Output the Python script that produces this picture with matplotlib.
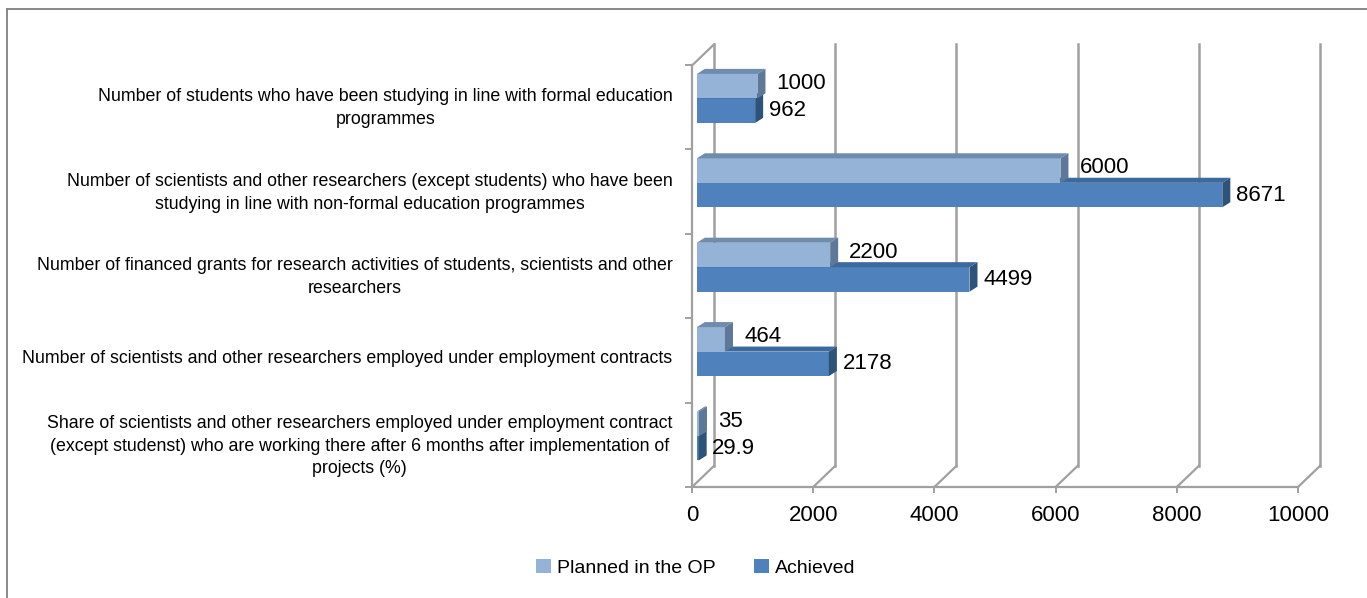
import matplotlib
matplotlib.use('Agg')
import matplotlib.pyplot as plt
from matplotlib.patches import Polygon, Patch
from matplotlib.lines import Line2D
import numpy as np

plt.rcParams['font.family'] = ['Liberation Sans', 'DejaVu Sans']

categories = [
    "Share of scientists and other researchers employed under employment contract\n"
    "(except studenst) who are working there after 6 months after implementation of\n"
    "projects (%)",
    "Number of scientists and other researchers employed under employment contracts",
    "Number of financed grants for research activities of students, scientists and other\n"
    "researchers",
    "Number of scientists and other researchers (except students) who have been\n"
    "studying in line with non-formal education programmes",
    "Number of students who have been studying in line with formal education\n"
    "programmes",
]
planned = [35, 464, 2200, 6000, 1000]
achieved = [29.9, 2178, 4499, 8671, 962]
planned_lbl = ["35", "464", "2200", "6000", "1000"]
achieved_lbl = ["29.9", "2178", "4499", "8671", "962"]
xticks = [0, 2000, 4000, 6000, 8000, 10000]

W, H = 1367, 598
fig = plt.figure(figsize=(W / 100, H / 100), dpi=100)

# front frame of the 3d plot in pixels
px_l, px_r, px_t, px_b = 692, 1298, 65, 487
ax = fig.add_axes([px_l / W, 1 - px_b / H, (px_r - px_l) / W, (px_b - px_t) / H])
ax.set_xlim(0, 10000)
ax.set_ylim(-0.604, 4.39)
ax.patch.set_alpha(0)

grid_c = '#a0a0a0'
ddx, ddy = 363, 0.25      # depth of the back wall (data units)
y0, y1 = ax.get_ylim()

for sp in ['top', 'right']:
    ax.spines[sp].set_visible(False)
for sp in ['left', 'bottom']:
    ax.spines[sp].set_color(grid_c)
    ax.spines[sp].set_linewidth(1.6)

# back wall + floor
for xv in xticks:
    ax.add_line(Line2D([xv + ddx, xv + ddx], [y0 + ddy, y1 + ddy], color=grid_c,
                       lw=1.8, clip_on=False, zorder=0.5))
    ax.add_line(Line2D([xv, xv + ddx], [y0, y0 + ddy], color=grid_c,
                       lw=1.6, clip_on=False, zorder=0.5))
ax.add_line(Line2D([0, ddx], [y1, y1 + ddy], color=grid_c, lw=1.6, clip_on=False, zorder=0.5))

# ticks
ax.set_xticks(xticks)
ax.set_xticklabels([str(v) for v in xticks], fontsize=16)
ax.tick_params(axis='x', length=4, width=1.4, color=grid_c, pad=9)
ypos = np.arange(len(categories))
ax.set_yticks(ypos - 0.06)
ax.set_yticklabels(categories, fontsize=12.8, linespacing=1.45, multialignment='center')
ax.tick_params(axis='y', length=0, pad=14)
ax.set_yticks(np.arange(len(categories) + 1) + y0, minor=True)
ax.tick_params(axis='y', which='minor', length=5, width=1.4, color=grid_c)

# bars
x0 = 80
bh = 0.29
bdx, bdy = 132, 0.06
sets = [
    (achieved, ypos - bh / 2, '#4f81bd', '#3d6a9d', '#2d5478', achieved_lbl, 4, 0),
    (planned, ypos + bh / 2, '#95b3d7', '#6f8bae', '#5d7898', planned_lbl, 8, 2),
]
for vals, yc, cf, ct, cs, lbls, off, voff in sets:
    ax.barh(yc, vals, height=bh, left=x0, color=cf, zorder=2)
    for v, y, t in zip(vals, yc, lbls):
        xe = x0 + v
        yt = y + bh / 2
        ax.add_patch(Polygon([(x0, yt), (xe, yt), (xe + bdx, yt + bdy), (x0 + bdx, yt + bdy)],
                             closed=True, facecolor=ct, edgecolor='none', zorder=2))
        ax.add_patch(Polygon([(xe, yt), (xe + bdx, yt + bdy), (xe + bdx, y - bh / 2 + bdy),
                              (xe, y - bh / 2)],
                             closed=True, facecolor=cs, edgecolor='none', zorder=2))
        ax.annotate(t, (xe + bdx, y), xytext=(off, voff), textcoords='offset points',
                    ha='left', va='center', fontsize=16, zorder=3)

handles = [Patch(facecolor='#95b3d7', label='Planned in the OP'),
           Patch(facecolor='#4f81bd', label='Achieved')]
fig.legend(handles=handles, loc='center', bbox_to_anchor=(0.509, 1 - 568 / H), ncol=2,
           frameon=False, fontsize=14, handlelength=0.75, handleheight=0.75,
           handletextpad=0.3, columnspacing=2.0)

# outer chart border (cropped at right / bottom)
fig.add_artist(Line2D([7 / W, 7 / W], [0, 1 - 9 / H], color='#888888', lw=1.4))
fig.add_artist(Line2D([7 / W, 1], [1 - 9 / H, 1 - 9 / H], color='#888888', lw=1.4))

fig.savefig('out.png', dpi=100)
